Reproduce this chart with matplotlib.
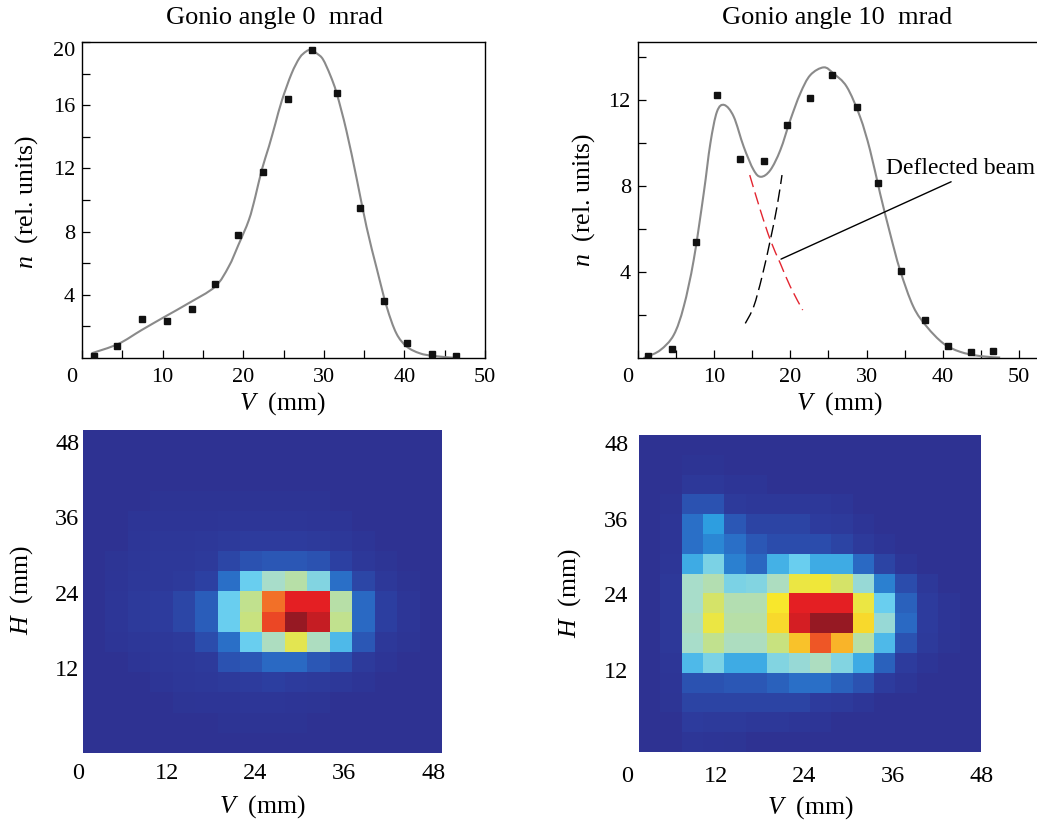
import numpy as np
import matplotlib
matplotlib.use('Agg')
import matplotlib.pyplot as plt
from matplotlib.colors import LinearSegmentedColormap
from matplotlib.transforms import ScaledTranslation
from matplotlib.path import Path
from matplotlib.patches import PathPatch

plt.rcParams['font.family'] = ['Liberation Serif', 'DejaVu Serif']
plt.rcParams['mathtext.fontset'] = 'custom'
plt.rcParams['mathtext.rm'] = 'Liberation Serif'
plt.rcParams['mathtext.it'] = 'Liberation Serif:italic'

# ---------------- data ----------------
titles = ["Gonio angle 0  mrad", "Gonio angle 10  mrad"]

v0_points = [1.5, 4.4, 7.4, 10.6, 13.6, 16.5, 19.4, 22.4, 25.5, 28.5, 31.6, 34.5, 37.5, 40.3, 43.4, 46.4]
n0_points = [0.1, 0.78, 2.46, 2.34, 3.09, 4.67, 7.77, 11.77, 16.38, 19.47, 16.78, 9.49, 3.62, 0.93, 0.25, 0.1]

v0_curve = [1.2, 4.5, 7.4, 10.3, 13.2, 16.5, 18.2, 19.4, 20.7, 21.5, 22.3, 23.2, 24.0, 24.8, 26.0,
            27.0, 27.8, 28.4, 29.2, 29.9, 30.8, 31.6, 32.8, 34.1, 35.3, 36.6, 37.8, 39.0, 40.3,
            41.9, 43.6, 46.5]
n0_curve = [0.3, 0.89, 1.77, 2.62, 3.46, 4.51, 5.78, 7.15, 8.73, 10.2, 11.9, 13.4, 14.85, 16.3, 18.0,
            19.0, 19.4, 19.5, 19.25, 18.9, 17.9, 16.75, 14.4, 11.3, 8.3, 5.6, 3.25, 1.56, 0.72,
            0.3, 0.13, 0.0]

v10_points = [1.3, 4.5, 7.6, 10.4, 13.4, 16.6, 19.6, 22.6, 25.5, 28.7, 31.5, 34.5, 37.6, 40.7, 43.7, 46.6]
n10_points = [0.08, 0.43, 5.38, 12.25, 9.24, 9.18, 10.84, 12.09, 13.18, 11.69, 8.16, 4.03, 1.78, 0.57, 0.28, 0.31]

v10_curve = [0.75, 1.22, 2.97, 4.72, 6.03, 7.34, 8.65, 9.52, 10.39, 11.35, 12.58, 13.89, 15.2, 16.16,
             17.38, 18.69, 20.0, 21.31, 22.62, 24.38, 25.64, 27.39, 29.13, 30.45, 31.76, 33.07,
             34.38, 36.12, 37.88, 40.05, 42.24, 44.86, 47.5]
n10_curve = [0.0, 0.06, 0.37, 1.07, 2.39, 4.56, 7.66, 9.98, 11.46, 11.77, 11.23, 9.83, 8.74, 8.43,
             8.74, 9.67, 11.07, 12.31, 13.16, 13.52, 13.24, 12.62, 11.23, 9.67, 7.66, 5.8,
             4.09, 2.39, 1.46, 0.68, 0.29, 0.09, 0.02]

v_red = [14.68, 16.07, 17.38, 18.69, 20.0, 21.62]
n_red = [8.51, 6.88, 5.49, 4.4, 3.32, 2.23]
v_black = [14.1, 15.2, 16.29, 17.38, 18.26, 18.91]
n_black = [1.61, 2.39, 3.78, 5.49, 7.04, 8.51]

annot_text = "Deflected beam"
annot_xy = (18.78, 4.6)
annot_text_xy = (32.6, 8.56)

heat_ticks = [0, 12, 24, 36, 48]

# 16 x 16 intensity maps, first row = top (large H)
grid0 = [
    [0]*16,
    [0]*16,
    [0]*16,
    [0, 0, 0, .03, .03, .03, .03, .03, .03, .03, .03, 0, 0, 0, 0, 0],
    [0, 0, .05, .05, .05, .05, .06, .06, .06, .06, .05, .05, 0, 0, 0, 0],
    [0, 0, .06, .07, .07, .08, .10, .12, .12, .12, .10, .08, .05, 0, 0, 0],
    [0, .04, .07, .08, .08, .10, .16, .20, .22, .22, .20, .14, .08, .04, 0, 0],
    [0, .05, .08, .08, .10, .14, .30, .45, .52, .55, .48, .30, .16, .08, .03, 0],
    [0, .06, .10, .12, .16, .24, .45, .57, .80, .90, .90, .55, .28, .13, .06, 0],
    [0, .06, .10, .12, .16, .24, .45, .58, .85, 1.0, .94, .57, .28, .13, .06, 0],
    [0, .05, .07, .08, .10, .18, .30, .45, .53, .62, .53, .42, .22, .08, .04, 0],
    [0, 0, .05, .07, .08, .10, .20, .22, .28, .28, .22, .18, .10, .05, 0, 0],
    [0, 0, 0, .05, .07, .08, .10, .12, .13, .12, .10, .08, .05, 0, 0, 0],
    [0, 0, 0, 0, .04, .05, .05, .06, .06, .05, .04, 0, 0, 0, 0, 0],
    [0, 0, 0, 0, 0, 0, .03, .03, .03, .03, 0, 0, 0, 0, 0, 0],
    [0]*16,
]

grid10 = [
    [0]*16,
    [0, 0, .03, .03, 0, 0, 0, 0, 0, 0, 0, 0, 0, 0, 0, 0],
    [0, 0, .08, .08, .05, .05, 0, 0, 0, 0, 0, 0, 0, 0, 0, 0],
    [0, .03, .20, .20, .10, .08, .08, .08, .08, .06, 0, 0, 0, 0, 0, 0],
    [0, .05, .30, .38, .22, .15, .15, .15, .12, .10, .05, 0, 0, 0, 0, 0],
    [0, .05, .30, .34, .30, .22, .18, .18, .18, .15, .10, .05, 0, 0, 0, 0],
    [0, .06, .40, .47, .33, .27, .41, .45, .40, .40, .28, .15, .06, 0, 0, 0],
    [0, .08, .52, .54, .47, .48, .53, .63, .64, .60, .50, .33, .18, .08, 0, 0],
    [0, .08, .52, .60, .54, .54, .65, .90, .90, .90, .63, .45, .25, .12, .05, 0],
    [0, .08, .53, .63, .55, .55, .67, .92, 1.0, 1.0, .67, .50, .28, .12, .05, 0],
    [0, .08, .52, .57, .53, .53, .58, .70, .83, .72, .55, .42, .20, .10, .04, 0],
    [0, .06, .42, .47, .40, .40, .48, .50, .53, .48, .40, .25, .12, .05, 0, 0],
    [0, .05, .20, .20, .22, .22, .25, .30, .30, .25, .20, .12, .06, 0, 0, 0],
    [0, .04, .15, .15, .15, .15, .15, .15, .12, .10, .06, 0, 0, 0, 0, 0],
    [0, 0, .12, .10, .10, .08, .08, .06, .05, 0, 0, 0, 0, 0, 0, 0],
    [0, 0, .06, .05, .04, 0, 0, 0, 0, 0, 0, 0, 0, 0, 0, 0],
]

# ---------------- style ----------------
beam_cmap = LinearSegmentedColormap.from_list('beam', [
    (0.00, (46/255, 50/255, 146/255)),
    (0.12, (45/255, 60/255, 158/255)),
    (0.22, (43/255, 88/255, 182/255)),
    (0.30, (42/255, 112/255, 200/255)),
    (0.38, (45/255, 158/255, 224/255)),
    (0.45, (105/255, 206/255, 240/255)),
    (0.52, (168/255, 221/255, 205/255)),
    (0.58, (200/255, 226/255, 128/255)),
    (0.65, (248/255, 232/255, 45/255)),
    (0.72, (250/255, 182/255, 42/255)),
    (0.80, (242/255, 112/255, 40/255)),
    (0.90, (230/255, 32/255, 36/255)),
    (1.00, (150/255, 25/255, 35/255)),
])

W, H = 1037, 825
fig = plt.figure(figsize=(W/100, H/100), dpi=100)


def px_axes(x0, y_top, w, h):
    return fig.add_axes([x0/W, 1 - (y_top + h)/H, w/W, h/H])


def smooth_path(xs, ys):
    """Catmull-Rom curve through the given points, as a cubic Bezier path."""
    pts = np.column_stack([xs, ys]).astype(float)
    ext = np.vstack([pts[0], pts, pts[-1]])
    verts = [pts[0]]
    codes = [Path.MOVETO]
    for i in range(len(pts) - 1):
        p0, p1, p2, p3 = ext[i], ext[i + 1], ext[i + 2], ext[i + 3]
        verts += [p1 + (p2 - p0) / 6.0, p2 - (p3 - p1) / 6.0, p2]
        codes += [Path.CURVE4] * 3
    return Path(verts, codes)


def draw_smooth(ax, xs, ys, **kw):
    ax.add_patch(PathPatch(smooth_path(xs, ys), fill=False, **kw))


TICK_FS = 16
LABEL_FS = 18.5
TITLE_FS = 19


def style_line_axes(ax, xlim, ylim, ymajor, yminor):
    ax.set_xlim(*xlim)
    ax.set_ylim(*ylim)
    ax.set_xticks([0, 10, 20, 30, 40, 50])
    ax.set_xticks([5, 15, 25, 35, 45], minor=True)
    ax.set_yticks(ymajor)
    ax.set_yticks(yminor, minor=True)
    ax.tick_params(which='both', direction='in', length=6, width=0.9,
                   top=False, right=False, labelsize=TICK_FS)
    ax.tick_params(axis='x', which='major', pad=7)
    ax.tick_params(axis='y', which='major', pad=5)
    for s in ax.spines.values():
        s.set_linewidth(1.0)
    lbl0 = ax.get_xticklabels()[0]
    lbl0.set_transform(lbl0.get_transform() + ScaledTranslation(-10.5/100, 0, fig.dpi_scale_trans))


curve_color = '#8a8a8a'

# ---- top left ----
ax1 = px_axes(82, 42, 403, 316)
draw_smooth(ax1, v0_curve, n0_curve, edgecolor=curve_color, lw=1.5, zorder=2)
ax1.plot(v0_points, n0_points, 's', color='#111111', ms=5, zorder=3)
style_line_axes(ax1, (0, 50), (0, 20), [4, 8, 12, 16, 20], [2, 6, 10, 14, 18])
ylbls = ax1.get_yticklabels()
ylbls[-1].set_transform(ylbls[-1].get_transform() + ScaledTranslation(0, -7/100, fig.dpi_scale_trans))
ax1.set_xlabel(r"$V$  (mm)", fontsize=LABEL_FS, va='center', ha='center')
ax1.xaxis.set_label_coords(0.4975, -0.1456)
ax1.set_ylabel(r"$n$  (rel. units)", fontsize=LABEL_FS, va='center', ha='center')
ax1.yaxis.set_label_coords(-0.1372, 0.4946)
fig.text(274.8/W, 1 - 18.3/H, titles[0], fontsize=TITLE_FS, ha='center', va='center')

# ---- top right ----
ax2 = px_axes(637.7, 42, 402.9, 316)
draw_smooth(ax2, v10_curve, n10_curve, edgecolor=curve_color, lw=1.5, zorder=2)
ax2.plot(v10_points, n10_points, 's', color='#111111', ms=5, zorder=3)
draw_smooth(ax2, v_red, n_red, edgecolor='#e32530', lw=1.0, linestyle=(0, (9, 4)), zorder=2)
draw_smooth(ax2, v_black, n_black, edgecolor='black', lw=1.0, linestyle=(0, (9, 4)), zorder=2)
style_line_axes(ax2, (0, 52.8), (0, 14.7), [4, 8, 12], [2, 6, 10, 14])
ax2.annotate(annot_text, xy=annot_xy, xytext=annot_text_xy, textcoords='data',
             fontsize=17, ha='left', va='baseline', annotation_clip=False,
             arrowprops=dict(arrowstyle='-', lw=1.0, color='black', shrinkA=0, shrinkB=0,
                             relpos=(0.475, 0.0)))
ax2.set_xlabel(r"$V$  (mm)", fontsize=LABEL_FS, va='center', ha='center')
ax2.xaxis.set_label_coords(0.4996, -0.1456)
ax2.set_ylabel(r"$n$  (rel. units)", fontsize=LABEL_FS, va='center', ha='center')
ax2.yaxis.set_label_coords(-0.135, 0.5)
fig.text(837/W, 1 - 18.3/H, titles[1], fontsize=TITLE_FS, ha='center', va='center')


# ---- heatmaps ----
def heat_axes(ax, grid, extent, xlim, ylim, xpad, xlab_xy, ylab_xy):
    ax.imshow(np.array(grid), cmap=beam_cmap, vmin=0, vmax=1, extent=extent,
              interpolation='nearest', aspect='auto', origin='upper')
    ax.set_xlim(*xlim)
    ax.set_ylim(*ylim)
    ax.set_xticks(heat_ticks)
    ax.set_yticks(heat_ticks[1:])
    ax.tick_params(length=0, labelsize=17.5)
    ax.tick_params(axis='x', pad=xpad)
    ax.tick_params(axis='y', pad=-1)
    for s in ax.spines.values():
        s.set_visible(False)
    ax.set_xlabel(r"$V$  (mm)", fontsize=LABEL_FS, va='center', ha='center')
    ax.xaxis.set_label_coords(*xlab_xy)
    ax.set_ylabel(r"$H$  (mm)", fontsize=LABEL_FS, va='center', ha='center')
    ax.yaxis.set_label_coords(*ylab_xy)


ax3 = px_axes(77.8, 430, 362.9, 323)
heat_axes(ax3, grid0, (0.66, 49.0, -1.53, 49.85), (0, 49.0), (-1.53, 49.85), 7,
          (0.5076, -0.1663), (-0.1546, 0.5046))

ax4 = px_axes(627.0, 435, 354.7, 316.7)
heat_axes(ax4, grid10, (1.66, 47.9, -1.05, 49.28), (0, 47.9), (-1.05, 49.28), 10,
          (0.516, -0.1778), (-0.1607, 0.501))

fig.savefig('out.png', dpi=100)
